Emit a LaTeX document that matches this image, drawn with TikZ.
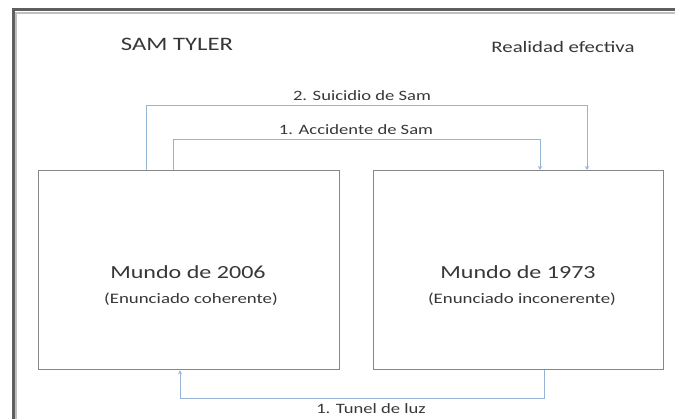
\documentclass[tikz,border=0pt]{standalone}
\usepackage{graphicx}
\usepackage{fontspec}
\setmainfont{Carlito}
\usetikzlibrary{arrows.meta}
\definecolor{framecol}{RGB}{95,95,95}
\definecolor{boxcol}{RGB}{135,135,135}
\definecolor{conncol}{RGB}{150,180,215}
\definecolor{txtcol}{RGB}{55,55,55}
\newcommand{\widetxt}[2]{\fontsize{#1}{#1}\selectfont\scalebox{1.3}[1]{#2}}
\tikzset{
  worldbox/.style={draw=boxcol, line width=1.3pt, inner sep=0pt, anchor=north west},
  conn/.style={draw=conncol, line width=1pt},
  connarrow/.style={conn, -{Stealth[length=4pt,width=4pt]}},
  lbl/.style={text=txtcol, inner sep=0pt},
}
\begin{document}
\begin{tikzpicture}[x=1pt,y=-1pt]
\useasboundingbox (0,0) rectangle (675,419);
\fill[white] (0,0) rectangle (675,419);
% outer frame
\draw[framecol!40, line width=2pt] (16,421) -- (16,13) -- (677,13);
\draw[framecol, line width=3pt] (13,421) -- (13,10) -- (677,10);
% titles
\node[lbl] (title) at (177,44) {\widetxt{19}{SAM TYLER}};
\node[lbl] (real) at (563,47) {\widetxt{16}{Realidad efectiva}};
% boxes
\node[worldbox, minimum width=301pt, minimum height=199pt] (L) at (38,170) {};
\node[worldbox, minimum width=290pt, minimum height=199pt] (R) at (373,170) {};
% box texts
\node[lbl] (m1) at (188,272) {\widetxt{18.5}{Mundo de 2006}};
\node[lbl] (e1) at (191,299) {\widetxt{14.5}{(Enunciado coherente)}};
\node[lbl] (m2) at (518,272) {\widetxt{18.5}{Mundo de 1973}};
\node[lbl] (e2) at (522,299) {\widetxt{14.5}{(Enunciado inconerente)}};
% connector labels
\node[lbl] (sl) at (362,96) {\widetxt{14.3}{2. Suicidio de Sam}};
\node[lbl] (al) at (356,130) {\widetxt{14.3}{1. Accidente de Sam}};
\node[lbl] (tl) at (371,409) {\widetxt{14.3}{1. Tunel de luz}};
% connectors
\coordinate (sy) at (0,106);
\coordinate (ay) at (0,140);
\coordinate (ty) at (0,399);
\draw[connarrow] ([xshift=108pt]L.north west) -- ([xshift=108pt]L.north west |- sy)
  -| ([xshift=214pt]R.north west);
\draw[connarrow] ([xshift=135pt]L.north west) -- ([xshift=135pt]L.north west |- ay)
  -| ([xshift=167pt]R.north west);
\draw[connarrow] ([xshift=171pt]R.south west) -- ([xshift=171pt]R.south west |- ty)
  -| ([xshift=142pt]L.south west);
\end{tikzpicture}
\end{document}
